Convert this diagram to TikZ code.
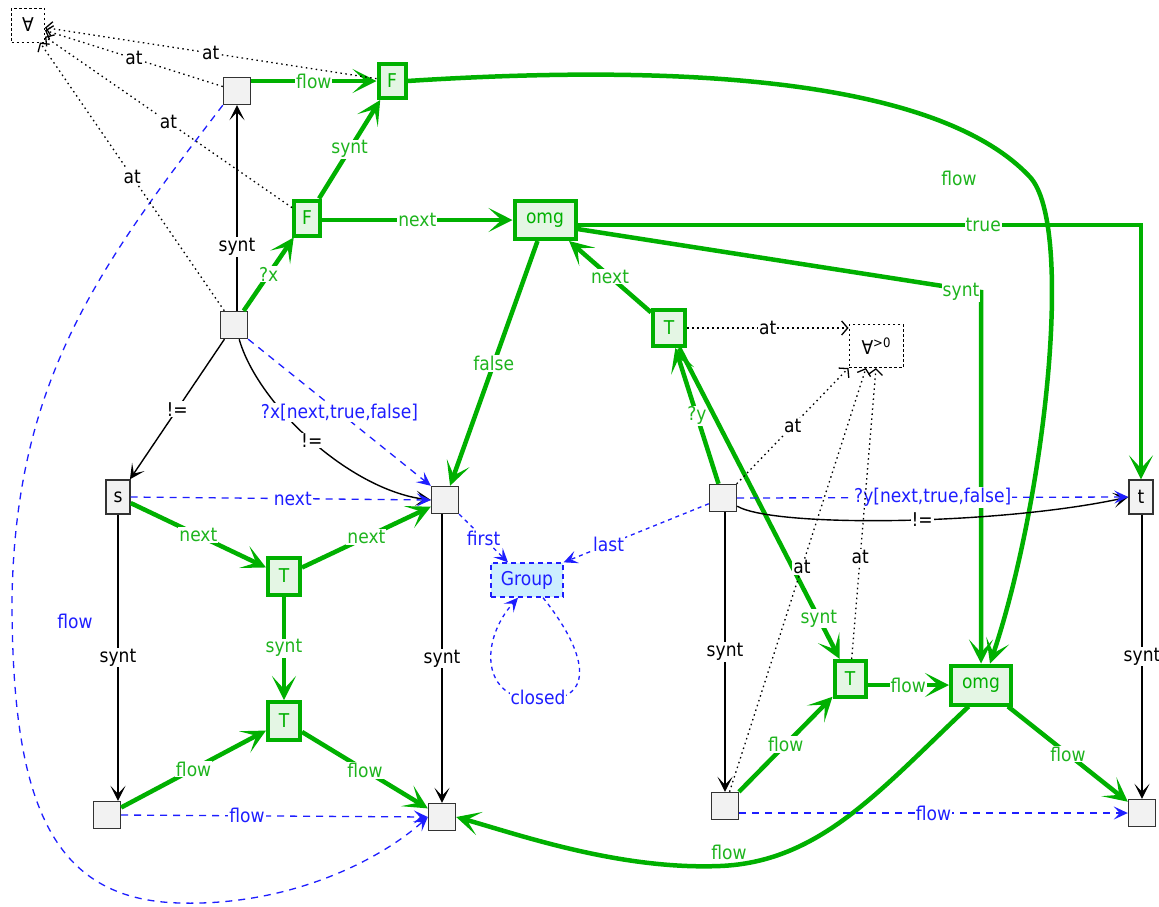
\documentclass[tikz,border=0pt]{standalone}
\usepackage{fontspec}
\setmainfont{DejaVu Sans}[FakeStretch=0.9]
\usetikzlibrary{arrows.meta}
\definecolor{gr}{RGB}{0,176,0}
\definecolor{glabc}{RGB}{30,180,30}
\definecolor{gfill}{RGB}{228,246,228}
\definecolor{nfill}{RGB}{242,242,242}
\definecolor{bl}{RGB}{30,30,255}
\definecolor{grpfill}{RGB}{204,238,255}
\begin{document}
\begin{tikzpicture}[x=1pt,y=-1pt,
  font=\fontsize{19}{21}\selectfont,
  box/.style={draw=black!80,line width=1.4pt,fill=nfill,inner sep=0pt,minimum width=27pt,minimum height=27pt},
  gbox/.style={draw=gr,line width=4pt,fill=gfill,text=gr,inner sep=0pt},
  qbox/.style={draw=black,line width=1pt,dash pattern=on 2.5pt off 2.5pt,inner sep=0pt},
  lab/.style={fill=white,inner sep=1pt},
  glab/.style={lab,text=glabc},
  blab/.style={lab,text=bl},
  glink/.style={draw=gr,line width=4.5pt,-{Stealth[length=24pt,width=24pt,inset=13pt]}},
  klink/.style={draw=black,line width=1.4pt,-{Stealth[length=15pt,width=15pt,inset=8pt]}},
  atlink/.style={draw=black,line width=1.3pt,dash pattern=on 1.5pt off 3.5pt,-{Straight Barb[length=6pt,width=14pt]}},
  blink/.style={draw=bl,line width=1.3pt,dash pattern=on 7pt off 6pt,-{Stealth[length=14pt,width=13pt,inset=6pt]}},
  bdot/.style={blink,dash pattern=on 4pt off 4pt},
]
\useasboundingbox[fill=white] (0,0) rectangle (1159,906);

% quantifier boxes
\node[qbox,minimum width=33pt,minimum height=34pt] (fa) at (28,25) {∀};
\node[qbox,minimum width=54pt,minimum height=43pt] (fz) at (876,346) {∀\raisebox{7pt}{\fontsize{13}{13}\selectfont >0}};

% plain and pattern nodes
\node[box] (n1) at (237,91) {};
\node[gbox,minimum width=27pt,minimum height=34pt] (F1) at (392,81) {F};
\node[gbox,minimum width=26pt,minimum height=35pt] (F2) at (307,218) {F};
\node[gbox,minimum width=61pt,minimum height=38pt] (om1) at (545,220) {omg};
\node[gbox,minimum width=32pt,minimum height=36pt] (Tu) at (669,328) {T};
\node[box] (n2) at (234,325) {};
\node[box,minimum width=24pt,minimum height=34pt] (s) at (118,497) {s};
\node[box] (n3) at (445,500) {};
\node[gbox,minimum width=32pt,minimum height=37pt] (Ta) at (284,576) {T};
\node[gbox,minimum width=32pt,minimum height=38pt] (Tb) at (284,721) {T};
\node[box] (n4) at (107,815) {};
\node[box] (n5) at (442,817) {};
\node[draw=bl,line width=1.3pt,dash pattern=on 5pt off 4pt,fill=grpfill,text=bl,minimum width=72pt,minimum height=34pt,inner sep=0pt] (grp) at (527,580) {Group};
\node[box] (n6) at (723,498) {};
\node[box,minimum width=24pt,minimum height=34pt] (t) at (1141,497) {t};
\node[gbox,minimum width=31pt,minimum height=36pt] (Tc) at (850,679) {T};
\node[gbox,minimum width=60pt,minimum height=39pt] (om2) at (981,685) {omg};
\node[box] (n7) at (725,806) {};
\node[box] (n8) at (1142,813) {};
\coordinate (sy) at (981,292);

% green edges
\draw[glink] (n1.east |- F1) -- node[glab]{flow} (F1.west);
\draw[glink] (F2) -- node[glab]{synt} (F1);
\draw[glink] (n2) -- node[glab]{?x} (F2);
\draw[glink] (F2.east |- om1) -- node[glab]{next} (om1.west);
\draw[glink] (om1) -- node[glab]{false} (n3);
\draw[glink] ([yshift=-5pt]om1.east) -| node[glab,pos=0.36]{true} (t.north);
\draw[glink] ([yshift=-9pt]om1.east) -- (sy) node[glab,xshift=-20pt]{synt} -- (om2.north);
\draw[glink] (F1.east) .. controls (640,66) and (930,70) .. (1030,177)
  node[glab,xshift=-71pt,yshift=-1pt]{flow}
  .. controls (1075,226) and (1045,500) .. ([xshift=9pt]om2.north);
\draw[glink] (Tu) -- node[glab]{next} (om1);
\draw[glink] (n6) -- node[glab]{?y} (Tu);
\draw[glink] (Tu) -- node[glab,pos=0.87]{synt} (Tc);
\draw[glink] (s) -- node[glab]{next} (Ta);
\draw[glink] (Ta) -- node[glab]{next} (n3);
\draw[glink] (Ta) -- node[glab]{synt} (Tb);
\draw[glink] (n4) -- node[glab]{flow} (Tb);
\draw[glink] (Tb) -- node[glab]{flow} (n5);
\draw[glink] (n7) -- node[glab]{flow} (Tc);
\draw[glink] (Tc.east |- om2) -- node[glab]{flow} (om2.west);
\draw[glink] (om2) -- node[glab]{flow} (n8);
\draw[glink] (om2.-120) .. controls (880,790) and (820,862) .. (720,866)
  node[glab,xshift=9pt,yshift=14pt]{flow}
  .. controls (620,870) and (520,835) .. (n5.east);

% black edges
\draw[klink] (n1 |- n2.north) -- node[lab,pos=0.31]{synt} (n1.south);
\draw[klink] (n2) -- node[lab]{!=} (s);
\draw[klink] (n2.-70) .. controls (258,405) and (350,490) .. (n3.west) node[lab,pos=0.5]{!=};
\draw[klink] (s.south) -- node[lab]{synt} (s.south |- n4.north);
\draw[klink] (n5 |- n3.south) -- node[lab]{synt} (n5.north);
\draw[klink] (n7 |- n6.south) -- node[lab]{synt} (n7.north);
\draw[klink] (t.south -| n8) -- node[lab]{synt} (n8.north);
\draw[klink] (n6.-30) .. controls (775,528) and (1000,525) .. (t.west) node[lab,pos=0.55]{!=};

% blue edges
\draw[blink] (n2.south east) -- node[blab]{?x[next,true,false]} (n3.north west);
\draw[blink] (s.east) -- node[blab,pos=0.54]{next} (n3.west);
\draw[blink] (n4.east) -- node[blab,pos=0.41]{flow} (n5.west);
\draw[blink] (n6.east) -- node[blab]{?y[next,true,false]} (t.west);
\draw[blink] (n7.east |- n8) -- node[blab]{flow} (n8.west);
\draw[bdot] (n3.south east) -- node[blab]{first} ([xshift=-19pt]grp.north);
\draw[bdot] (n6) -- node[blab,pos=0.69]{last} (grp.north east);
\draw[bdot] ([xshift=16pt]grp.south) .. controls (585,650) and (600,702) .. (538,700)
  node[blab,yshift=3pt]{closed}
  .. controls (480,700) and (480,640) .. ([xshift=-9pt]grp.south);
\draw[blink] (n1.south west) .. controls (100,265) and (15,380) .. (12,600)
  node[blab,xshift=63pt,yshift=-21pt]{flow}
  .. controls (12,800) and (50,900) .. (180,903)
  .. controls (290,906) and (380,860) .. (n5.west);

% quantifier edges
\draw[atlink] (n1) -- node[lab]{at} (fa);
\draw[atlink] (F1) -- node[lab]{at} (fa);
\draw[atlink] (F2) -- node[lab]{at} (fa);
\draw[atlink] (n2) -- node[lab]{at} (fa);
\draw[atlink] (Tu.east) -- node[lab]{at} (Tu.east -| fz.west);
\draw[atlink] (n6) -- node[lab]{at} (fz.south west);
\draw[atlink] (n7) -- node[lab,pos=0.53]{at} ([xshift=-10pt]fz.south);
\draw[atlink] (Tc) -- node[lab,pos=0.35]{at} (fz.south);
\end{tikzpicture}
\end{document}
